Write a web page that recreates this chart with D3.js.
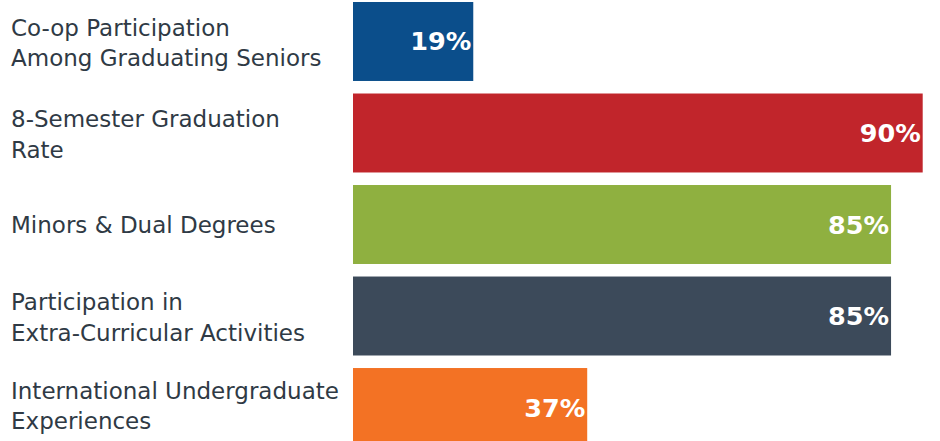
<!DOCTYPE html>
<html>
<head>
<meta charset="utf-8">
<script src="https://cdn.jsdelivr.net/npm/d3@7"></script>
<style>
  body { margin: 0; background: #fff; }
</style>
</head>
<body>
<div id="chart"></div>
<script>
// categories, each label split into its display lines
const categories = [
  ["Co-op Participation", "Among Graduating Seniors"],
  ["8-Semester Graduation", "Rate"],
  ["Minors & Dual Degrees"],
  ["Participation in", "Extra-Curricular Activities"],
  ["International Undergraduate", "Experiences"]
];
const values = [19, 90, 85, 85, 37];
const colors = ["#0b4e8b", "#c1252b", "#8fb040", "#3c4a5a", "#f37224"];

const width = 940;
const height = 441;

const svg = d3.select("#chart").append("svg")
    .attr("width", width)
    .attr("height", height);

const xScale = d3.scaleLinear().domain([0, 100]).range([353, 986]);
const yScale = d3.scaleBand()
    .domain(d3.range(values.length))
    .range([2, 447])
    .paddingInner(0.137)
    .paddingOuter(0);

const rows = svg.selectAll("g.row")
    .data(values)
    .enter().append("g")
    .attr("class", "row");

// the bars
rows.append("rect")
    .attr("x", xScale(0))
    .attr("y", function(d, i) { return yScale(i); })
    .attr("width", function(d) { return xScale(d) - xScale(0); })
    .attr("height", yScale.bandwidth())
    .attr("fill", function(d, i) { return colors[i]; });

// percent labels inside the bars
rows.append("text")
    .attr("x", function(d) { return xScale(d) - 2; })
    .attr("y", function(d, i) { return yScale(i) + yScale.bandwidth() / 2 + 9; })
    .attr("text-anchor", "end")
    .attr("font-family", "DejaVu Sans, Verdana, sans-serif")
    .attr("font-weight", "bold")
    .attr("font-size", "25.5px")
    .attr("fill", "#fff")
    .text(function(d) { return d + "%"; });

// category labels on the left
const lineH = 30.5;
rows.append("text")
    .attr("font-family", "DejaVu Sans, Verdana, sans-serif")
    .attr("font-size", "23px")
    .attr("fill", "#2f3a45")
    .each(function(d, i) {
      const lines = categories[i];
      const c = yScale(i) + yScale.bandwidth() / 2;
      let first = c + 8.5 - (lines.length - 1) * lineH / 2 + (lines.length > 1 ? 1 : 0);
      // keep the last line clear of the bottom edge
      const last = first + (lines.length - 1) * lineH;
      if (last > height - 12) first -= last - (height - 12);
      const t = d3.select(this);
      lines.forEach(function(s, k) {
        t.append("tspan")
          .attr("x", 11)
          .attr("y", first + k * lineH)
          .text(s);
      });
    });
</script>
</body>
</html>
